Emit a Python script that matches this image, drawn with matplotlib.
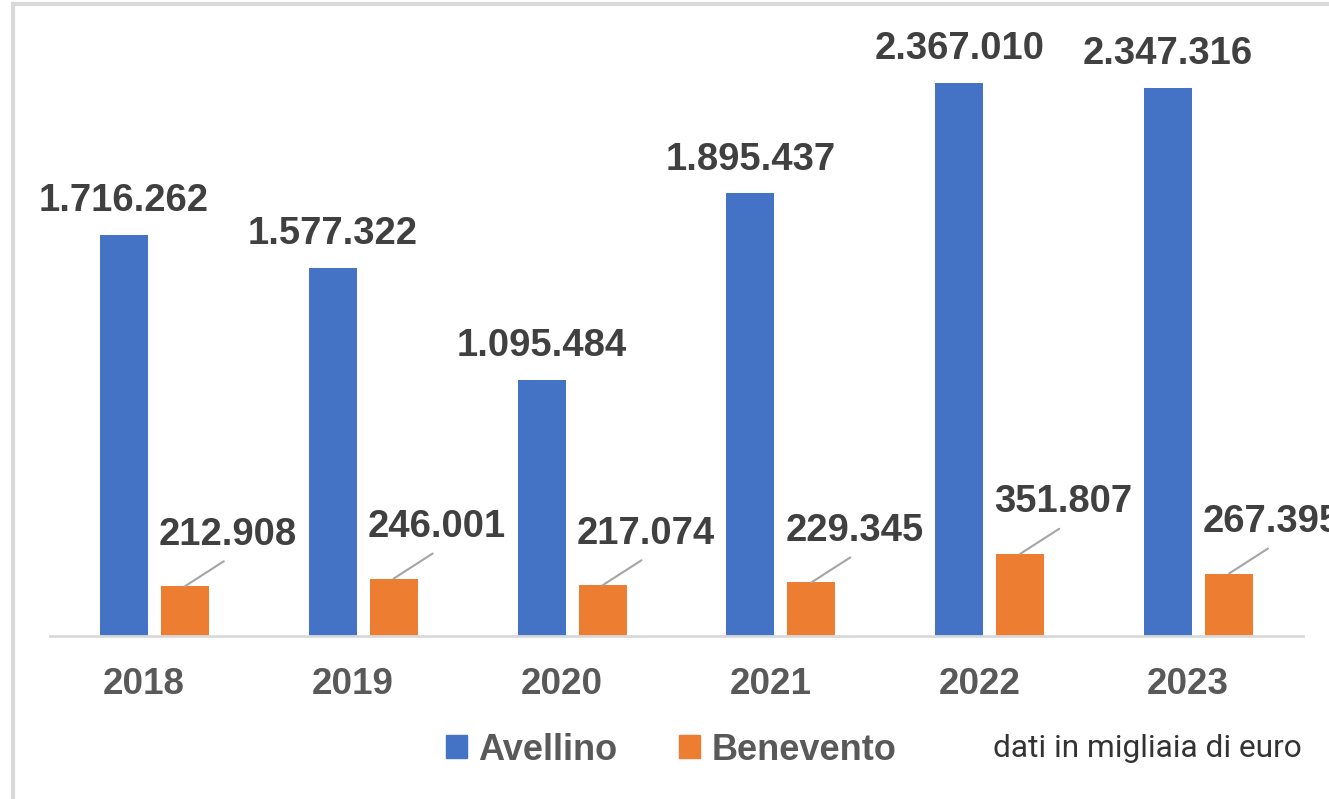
import matplotlib
matplotlib.use('Agg')
import matplotlib.pyplot as plt
from matplotlib.patches import Patch, Rectangle
import numpy as np

# data (migliaia di euro)
years = ['2018', '2019', '2020', '2021', '2022', '2023']
avellino = [1716262, 1577322, 1095484, 1895437, 2367010, 2347316]
benevento = [212908, 246001, 217074, 229345, 351807, 267395]

BLUE = '#4472C4'
ORANGE = '#ED7D31'
GRID = '#D9D9D9'
TXT = '#404040'
TXT2 = '#595959'

def fmt(v):
    return f'{v:,}'.replace(',', '.')

plt.rcParams['font.family'] = ['Liberation Sans', 'DejaVu Sans']

fig = plt.figure(figsize=(13.29, 7.99), dpi=100)
ax = fig.add_axes([50/1329, 163/799, 1253/1329, 607.4/799])

x = np.arange(len(years))
w = 0.23
off = 0.146
ax.bar(x - off, avellino, w, color=BLUE)
ax.bar(x + off, benevento, w, color=ORANGE)

for xi, v in zip(x, avellino):
    ax.annotate(fmt(v), (xi - off, v), xytext=(0, 17), textcoords='offset points',
                ha='center', va='baseline', fontsize=27.5, fontweight='bold', color=TXT)

for xi, v in zip(x, benevento):
    ax.annotate('', xy=(xi + off, v), xytext=(28, 18), textcoords='offset points',
                arrowprops=dict(arrowstyle='-', color='#A5A5A5', lw=1.5,
                                shrinkA=0, shrinkB=0))
    ax.annotate(fmt(v), (xi + off, v), xytext=(31, 30), textcoords='offset points',
                ha='center', va='baseline', fontsize=27.5, fontweight='bold', color=TXT)

ax.set_xlim(-0.5, 5.5)
ax.set_ylim(0, 2.6e6)
# year labels sit a little left of the group centre in the original
ax.set_xticks(x - 0.05)
ax.set_xticklabels(years, fontsize=26.5, fontweight='bold', color=TXT2)
ax.tick_params(axis='x', length=0, pad=22)
ax.set_yticks([])
for s in ['top', 'right', 'left']:
    ax.spines[s].set_visible(False)
ax.spines['bottom'].set_color(GRID)
ax.spines['bottom'].set_linewidth(2)

handles = [Patch(color=BLUE, label='Avellino'), Patch(color=ORANGE, label='Benevento')]
fig.legend(handles=handles, loc='center', bbox_to_anchor=(671/1329, 49/799), ncol=2,
           frameon=False, prop=dict(size=26, weight='bold'), labelcolor=TXT2,
           handlelength=0.6, handleheight=0.6, handletextpad=0.3, columnspacing=1.7)

fig.text(1302/1329, (799 - 757)/799, 'dati in migliaia di euro', ha='right', va='baseline',
         fontsize=22.8, color='#333333', family=['Roboto', 'DejaVu Sans'])

fig.patches.append(Rectangle((13/1329, -0.05), 1.2, 1.05 - 4/799, transform=fig.transFigure,
                             fill=False, edgecolor=GRID, lw=3))

fig.savefig('out.png', dpi=100)
